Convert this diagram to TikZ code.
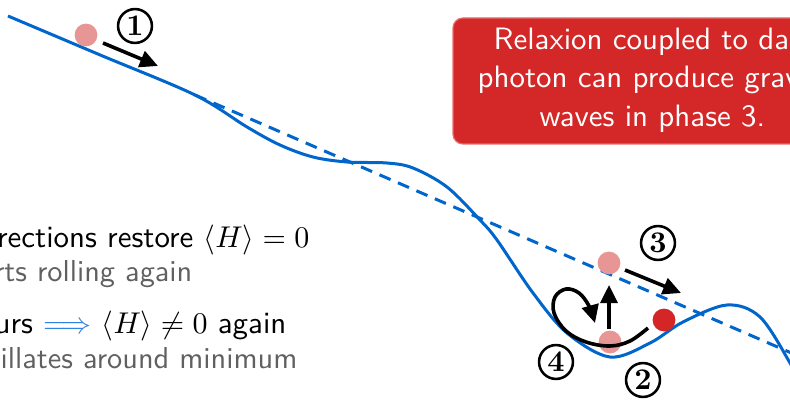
\documentclass[tikz,border=0pt]{standalone}
\usetikzlibrary{arrows.meta}
\definecolor{curveblue}{RGB}{0,102,204}
\definecolor{implblue}{RGB}{50,130,225}
\definecolor{ballpink}{RGB}{232,149,149}
\definecolor{ballred}{RGB}{212,38,38}
\definecolor{boxred}{RGB}{212,40,40}
\definecolor{boxedge}{RGB}{228,110,110}
\definecolor{txtgrey}{RGB}{96,96,96}
\begin{document}
\begin{tikzpicture}[x=0.3333pt, y=-0.3333pt,
  pot/.style={curveblue, line width=1pt},
  potdash/.style={curveblue, line width=1pt, dash pattern=on 4pt off 2.7pt},
  pinkball/.style={circle, fill=ballpink, inner sep=0pt, minimum size=7.6pt},
  redball/.style={circle, fill=ballred, inner sep=0pt, minimum size=7.6pt},
  num/.style={circle, draw, line width=0.85pt, inner sep=0pt, minimum size=11.3pt,
    font=\rmfamily\bfseries\fontsize{10}{12}\selectfont},
  mvarrow/.style={line width=1.2pt, -{Triangle[length=6pt,width=5.6pt]}},
  boxtxt/.style={anchor=base west, inner sep=0pt, text=white,
    font=\sffamily\fontsize{10.3}{12}\selectfont},
  lefttxt/.style={anchor=base east, inner sep=0pt,
    font=\sffamily\fontsize{10.3}{12}\selectfont},
  greytxt/.style={anchor=base east, inner sep=0pt, text=txtgrey,
    font=\sffamily\fontsize{10.1}{12}\selectfont}]
\useasboundingbox (0,0) rectangle (790,400);
\clip (0,0) rectangle (790,400);

% potential
\draw[potdash] (195,95) -- (810,361);
\draw[pot] plot[smooth, tension=0.55] coordinates {
  (8,16) (100,54.9) (195,95) (247,127) (280,145) (313,157) (347,162) (387,163)
  (413,168) (447,187) (480,220) (497,240) (533,293) (567,333) (610,357)
  (650,343) (683,322) (727,305) (760,317) (790,363) (800,385)};

% red info box
\filldraw[fill=boxred, draw=boxedge, line width=0.4pt, rounded corners=3.3pt]
  (453,18) rectangle (870,144);
\node[boxtxt] (t1) at (493,50) {Relaxion coupled to dark};
\node[boxtxt] (t2) at (477,88) {photon can produce gravitational};
\node[boxtxt] (t3) at (539,127) {waves in phase 3.};

% left text
\node[lefttxt] (l1) at (310,247) {corrections restore $\langle H\rangle = 0$};
\node[greytxt] (l2) at (193,281) {starts rolling again};
\node[lefttxt] (l3) at (287,333) {occurs {\color{implblue}$\Longrightarrow$} $\langle H\rangle \neq 0$ again};
\node[greytxt] (l4) at (298,368) {oscillates around minimum};

% balls
\node[pinkball] (b1) at (86,35) {};
\node[pinkball] (b3) at (609,263) {};
\node[pinkball] (b2) at (610,342) {};
\node[redball] (br) at (664,320) {};

% arrows
\coordinate (a1s) at (103,43);
\coordinate (a1e) at (158,66);
\draw[mvarrow] (a1s) -- (a1e);
\coordinate (a3s) at (625,270);
\coordinate (a3e) at (681,293);
\draw[mvarrow] (a3s) -- (a3e);
\coordinate (aus) at (609,329);
\coordinate (aue) at (609,285);
\draw[mvarrow] (aus) -- (aue);
\draw[mvarrow] plot[smooth, tension=0.6] coordinates {
  (648,328) (630,341) (610,346) (586,342) (566,331) (554,313) (555,297)
  (566,289) (579,293) (589,306) (595,323)};

% numbers
\node[num] (n1) at (135,26) {1};
\node[num] (n3) at (658,243) {3};
\node[num] (n4) at (556,362) {4};
\node[num] (n2) at (643,380) {2};
\end{tikzpicture}
\end{document}
